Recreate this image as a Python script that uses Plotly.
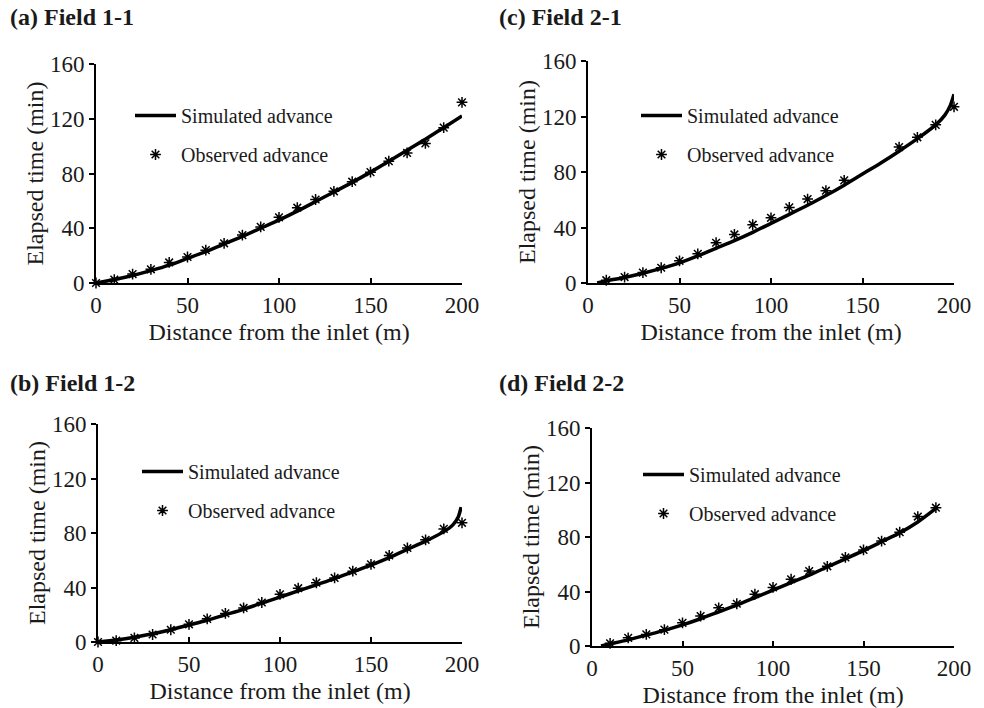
import plotly.graph_objects as go

W, H = 984, 708

# ---------------- data ----------------
# (a) Field 1-1
obs_x_a = [0, 10, 20, 30, 40, 50, 60, 70, 80, 90, 100, 110, 120, 130, 140, 150, 160, 170, 180, 190, 200]
obs_t_a = [0, 2.5, 6.5, 10, 15, 19, 24, 29, 35, 41, 48, 55, 61, 67, 74, 81, 89, 95, 102, 113.5, 132]
sim_x_a = [0, 10, 20, 30, 40, 50, 60, 70, 80, 90, 100, 110, 120, 130, 140, 150, 160, 170, 180, 190, 200]
sim_t_a = [0, 2.5, 5.5, 9, 13, 18, 23, 28.5, 34, 40, 46, 52.5, 59.5, 66.5, 73.5, 81, 89, 97, 105, 113.5, 122]

# (c) Field 2-1
obs_x_c = [10, 20, 30, 40, 50, 60, 70, 80, 90, 100, 110, 120, 130, 140, 170, 180, 190, 200]
obs_t_c = [2, 4.3, 7.5, 11, 16, 21, 29, 35, 42, 47, 54.5, 60.5, 66.5, 74, 98, 105, 114, 127]
sim_x_c = [5, 10, 20, 30, 40, 50, 60, 70, 80, 90, 100, 110, 120, 130, 140, 150, 160, 170, 180, 190, 195, 198, 200]
sim_t_c = [0, 1.5, 4, 7, 10.5, 14.5, 19.5, 25, 30.5, 36.5, 43, 49.5, 56, 63, 70.5, 78.5, 86.5, 95, 104, 114, 121, 128, 136]

# (b) Field 1-2
obs_x_b = [0, 10, 20, 30, 40, 50, 60, 70, 80, 90, 100, 110, 120, 130, 140, 150, 160, 170, 180, 190, 200]
obs_t_b = [0, 1, 3, 5.5, 9, 13, 17, 21, 25, 29, 35, 39.5, 43.5, 47, 52, 57, 63.5, 69, 75, 83, 87.5]
sim_x_b = [0, 10, 20, 30, 40, 50, 60, 70, 80, 90, 100, 110, 120, 130, 140, 150, 160, 170, 180, 190, 195, 198, 199.5]
sim_t_b = [0, 1.5, 3.5, 6, 9, 12.5, 16, 20, 24, 28.5, 33, 37.5, 42, 46.5, 51.5, 56.5, 62, 68, 74, 81, 86, 92, 99]

# (d) Field 2-2
obs_x_d = [10, 20, 30, 40, 50, 60, 70, 80, 90, 100, 110, 120, 130, 140, 150, 160, 170, 180, 190]
obs_t_d = [2, 6, 8.5, 12, 17, 22, 28, 31, 38, 43, 49, 55, 58.5, 65, 70.5, 77, 83.5, 95, 101.5]
sim_x_d = [5, 10, 20, 30, 40, 50, 60, 70, 80, 90, 100, 110, 120, 130, 140, 150, 160, 170, 180, 190]
sim_t_d = [0, 1.5, 4.5, 8, 11.5, 15.5, 20, 25, 30, 35.5, 41, 46.5, 52, 58, 64, 70, 76.5, 83, 91, 101]

panel_titles = ["(a) Field 1-1", "(c) Field 2-1", "(b) Field 1-2", "(d) Field 2-2"]
x_title = "Distance from the inlet (m)"
y_title = "Elapsed time (min)"
sim_name = "Simulated advance"
obs_name = "Observed advance"
x_ticks = [0, 50, 100, 150, 200]
y_ticks = [0, 40, 80, 120, 160]

# ---------------- layout geometry (pixels) ----------------
FONT = "Liberation Serif, Times New Roman, serif"
TXT = "#1a1a1a"

panels = [
    dict(ox=obs_x_a, ot=obs_t_a, sx=sim_x_a, st=sim_t_a, box=(96, 462, 64, 283), leg=(130, 96), ttl=(8, 17)),
    dict(ox=obs_x_c, ot=obs_t_c, sx=sim_x_c, st=sim_t_c, box=(588, 954, 61, 283), leg=(636, 96), ttl=(497, 17)),
    dict(ox=obs_x_b, ot=obs_t_b, sx=sim_x_b, st=sim_t_b, box=(98, 462, 424, 642), leg=(137, 452), ttl=(8, 383)),
    dict(ox=obs_x_d, ot=obs_t_d, sx=sim_x_d, st=sim_t_d, box=(592, 954, 428, 646), leg=(638, 455), ttl=(497, 383)),
]

fig = go.Figure()
layout = dict(
    width=W, height=H,
    margin=dict(l=0, r=0, t=0, b=0),
    paper_bgcolor="white", plot_bgcolor="white",
    font=dict(family=FONT, color=TXT, size=20),
    annotations=[],
)

for i, p in enumerate(panels):
    n = "" if i == 0 else str(i + 1)
    xa, ya = "x" + n, "y" + n
    leg = "legend" + n
    fig.add_trace(go.Scatter(
        x=p["sx"], y=p["st"], mode="lines", name=sim_name,
        line=dict(color="black", width=3.5, shape="spline", smoothing=0.6),
        xaxis=xa, yaxis=ya, legend=leg, legendgroup="sim" + n, cliponaxis=False,
    ))
    fig.add_trace(go.Scatter(
        x=p["ox"], y=p["ot"], mode="markers", name=obs_name,
        marker=dict(symbol="asterisk-open", size=9, color="black", line=dict(color="black", width=1.5)),
        xaxis=xa, yaxis=ya, legend=leg, legendgroup="obs" + n, cliponaxis=False,
    ))
    l, r, t, b = p["box"]
    axis_common = dict(showgrid=False, zeroline=False, showline=True, linecolor="black",
                       linewidth=2, tickcolor="black", tickwidth=1.5, ticklen=5,
                       tickfont=dict(family=FONT, size=23, color=TXT), automargin=False)
    layout["xaxis" + n] = dict(
        axis_common, domain=[l / W, r / W], anchor=ya, range=[0, 200],
        tickvals=x_ticks, ticks="inside",
        title=dict(text=x_title, font=dict(family=FONT, size=24, color=TXT), standoff=7),
    )
    layout["yaxis" + n] = dict(
        axis_common, domain=[1 - b / H, 1 - t / H], anchor=xa, range=[0, 160],
        tickvals=y_ticks, ticks="outside",
        title=dict(text=y_title, font=dict(family=FONT, size=24, color=TXT), standoff=0),
    )
    lx, ly = p["leg"]
    layout[leg] = dict(
        x=lx / W, y=1 - ly / H, xanchor="left", yanchor="top",
        bgcolor="rgba(0,0,0,0)", borderwidth=0, tracegroupgap=10, itemwidth=41,
        traceorder="grouped", font=dict(family=FONT, size=20, color=TXT),
    )
    tx, ty = p["ttl"]
    layout["annotations"].append(dict(
        text="<b>" + panel_titles[i] + "</b>", xref="paper", yref="paper",
        x=tx / W, y=1 - ty / H, xanchor="left", yanchor="middle", showarrow=False,
        font=dict(family=FONT, size=24, color=TXT),
    ))

fig.update_layout(**layout)
fig.write_html("out.html")
